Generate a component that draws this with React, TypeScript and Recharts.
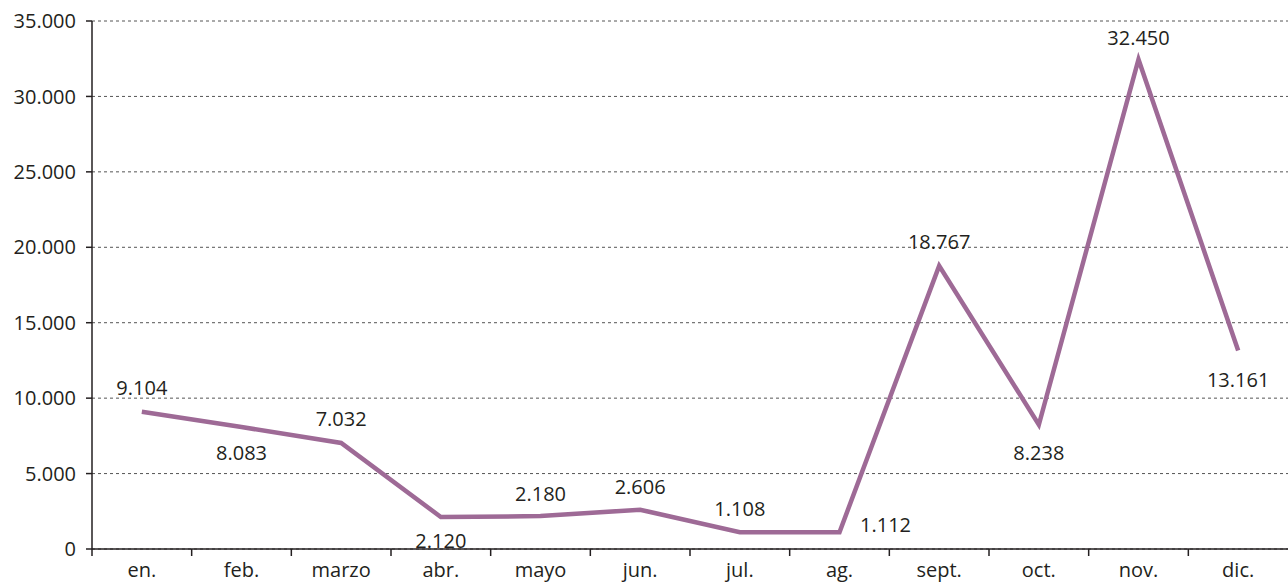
import { LineChart, Line, XAxis, YAxis, CartesianGrid, LabelList } from 'recharts';

const months = ['en.', 'feb.', 'marzo', 'abr.', 'mayo', 'jun.', 'jul.', 'ag.', 'sept.', 'oct.', 'nov.', 'dic.'];
const values = [9104, 8083, 7032, 2120, 2180, 2606, 1108, 1112, 18767, 8238, 32450, 13161];
const yTicks = [0, 5000, 10000, 15000, 20000, 25000, 30000, 35000];

// label offset relative to the point: [dx, dy]
const labelOffsets: [number, number][] = [
  [0, -24], [0, 25], [0, -24], [0, 23], [0, -23], [0, -23],
  [0, -24], [46, -8], [0, -24], [0, 28], [0, -22], [0, 29],
];

const data = months.map((m, i) => ({ month: m, value: values[i] }));

const fmt = (v: number) => String(v).replace(/\B(?=(\d{3})+(?!\d))/g, '.');

const W = 1288;
const H = 584;
const plotLeft = 92;
const bandW = (W - plotLeft) / months.length;
const font = '"Open Sans", sans-serif';
const ink = '#231f20';

const MonthTick = (props: any) => {
  const { x, y, payload } = props;
  return (
    <g>
      <line x1={x - bandW / 2} x2={x - bandW / 2} y1={y - 8} y2={y - 1} stroke={ink} strokeWidth={1.5} />
      <text x={x} y={y + 20} textAnchor="middle" fontFamily={font} fontSize={20} fill={ink}>
        {payload.value}
      </text>
    </g>
  );
};

const ValueLabel = (props: any) => {
  const { x, y, value, index } = props;
  const [dx, dy] = labelOffsets[index] || [0, -24];
  return (
    <text x={x + dx} y={y + dy} textAnchor="middle" dominantBaseline="central" fontFamily={font} fontSize={20} fill={ink}>
      {fmt(value)}
    </text>
  );
};

export default function App() {
  return (
    <div style={{ position: 'absolute', left: 0, top: 0, background: '#fff' }}>
      <LineChart width={W} height={H} data={data} margin={{ top: 21, right: 0, left: 0, bottom: 0 }}>
        <CartesianGrid vertical={false} stroke="#555" strokeDasharray="3 3" />
        <XAxis
          dataKey="month"
          scale="band"
          interval={0}
          tickLine={false}
          tick={<MonthTick />}
          axisLine={{ stroke: ink, strokeWidth: 1.5 }}
          height={35}
        />
        <YAxis
          domain={[0, 35000]}
          ticks={yTicks}
          width={plotLeft}
          tickFormatter={fmt}
          tick={{ fontFamily: font, fontSize: 20, fill: ink }}
          tickSize={6}
          tickMargin={10}
          tickLine={{ stroke: ink, strokeWidth: 1.5 }}
          axisLine={{ stroke: ink, strokeWidth: 1.5 }}
        />
        <Line
          type="linear"
          dataKey="value"
          stroke="#9e6a96"
          strokeWidth={4.5}
          dot={false}
          activeDot={false}
          isAnimationActive={false}
        >
          <LabelList dataKey="value" content={<ValueLabel />} />
        </Line>
      </LineChart>
    </div>
  );
}
